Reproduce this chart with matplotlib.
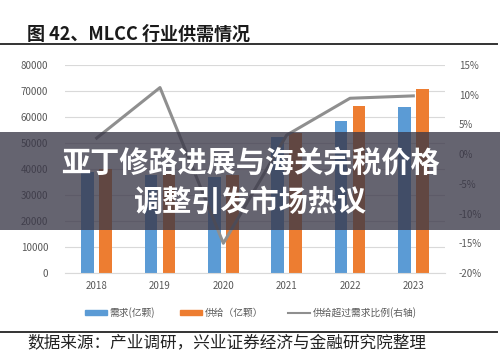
import numpy as np
import matplotlib
matplotlib.use('Agg')
import matplotlib.pyplot as plt
from matplotlib.patches import Rectangle
from matplotlib.lines import Line2D

plt.rcParams['font.family'] = ['Noto Sans CJK SC', 'DejaVu Sans']

# data
years = ['2018', '2019', '2020', '2021', '2022', '2023']
demand = [39000, 37600, 37000, 52400, 58600, 64000]
supply = [40000, 38400, 37700, 53800, 64200, 70600]
ratio = [2.7, 11.2, -15.0, 3.2, 9.4, 9.8]

left_ticks = np.arange(0, 80001, 10000)
right_ticks = np.arange(-20, 16, 5)

blue = '#5b9bd5'
orange = '#ed7d31'
grey_line = '#8f8f8f'
tick_col = '#595959'

fig = plt.figure(figsize=(5, 3.63), dpi=100)
ax = fig.add_axes([0.13, 0.248, 0.76, 0.573])

x = np.arange(len(years))
w = 0.205
off = 0.142
ax.bar(x - off, demand, w, color=blue, zorder=2)
ax.bar(x + off, supply, w, color=orange, zorder=2)

ax.set_xlim(-0.5, len(years) - 0.5)
ax.set_ylim(0, 80000)
ax.set_yticks(left_ticks)
ax.set_yticklabels([str(v) for v in left_ticks])
ax.set_xticks(x)
ax.set_xticklabels(years)
ax.yaxis.grid(True, color='#d9d9d9', lw=0.8, zorder=0)
ax.set_axisbelow(True)
for s in ['top', 'right', 'left']:
    ax.spines[s].set_visible(False)
ax.spines['bottom'].set_color('#d9d9d9')
ax.tick_params(axis='both', length=0, labelsize=7, colors=tick_col)
ax.tick_params(axis='x', pad=6)
ax.tick_params(axis='y', pad=12)

ax2 = ax.twinx()
ax2.plot(x, ratio, color=grey_line, lw=2.2, zorder=3)
ax2.set_ylim(-20, 15)
ax2.set_yticks(right_ticks)
ax2.set_yticklabels([f'{v}%' for v in right_ticks])
for s in ax2.spines.values():
    s.set_visible(False)
ax2.tick_params(axis='y', length=0, labelsize=7, colors=tick_col, pad=10)

# legend
handles = [Rectangle((0, 0), 1, 1, color=blue),
           Rectangle((0, 0), 1, 1, color=orange),
           Line2D([0], [0], color=grey_line, lw=1.5)]
labels = ['需求(亿颗)', '供给（亿颗）', '供给超过需求比例(右轴)']
fig.legend(handles, labels, loc='center', bbox_to_anchor=(0.502, 0.138), ncol=3,
           frameon=False, fontsize=7, handlelength=2.2, handleheight=0.45,
           columnspacing=2.6, handletextpad=0.3, labelcolor=tick_col)

# title and source
fig.text(0.054, 0.905, '图 42、MLCC 行业供需情况', fontsize=13, fontweight='heavy',
         color='#1a1a1a', va='center')
fig.add_artist(Line2D([0, 0.994], [0.88, 0.88], color='#333333', lw=1.4,
                      transform=fig.transFigure))
fig.add_artist(Line2D([0, 0.994], [0.085, 0.085], color='#333333', lw=1.4,
                      transform=fig.transFigure))
fig.text(0.054, 0.055, '数据来源：产业调研，兴业证券经济与金融研究院整理', fontsize=12,
         color='#222222', va='center')

# dark banner with headline
fig.add_artist(Rectangle((0, 0.366), 1, 0.270, transform=fig.transFigure,
                         color='#3a3848', alpha=0.78, zorder=10, lw=0))
fig.text(0.5, 0.551, '亚丁修路进展与海关完税价格', fontsize=21, fontweight='heavy',
         color='white', ha='center', va='center', zorder=11)
fig.text(0.5, 0.444, '调整引发市场热议', fontsize=21, fontweight='heavy',
         color='white', ha='center', va='center', zorder=11)

plt.savefig('out.png', dpi=100)
